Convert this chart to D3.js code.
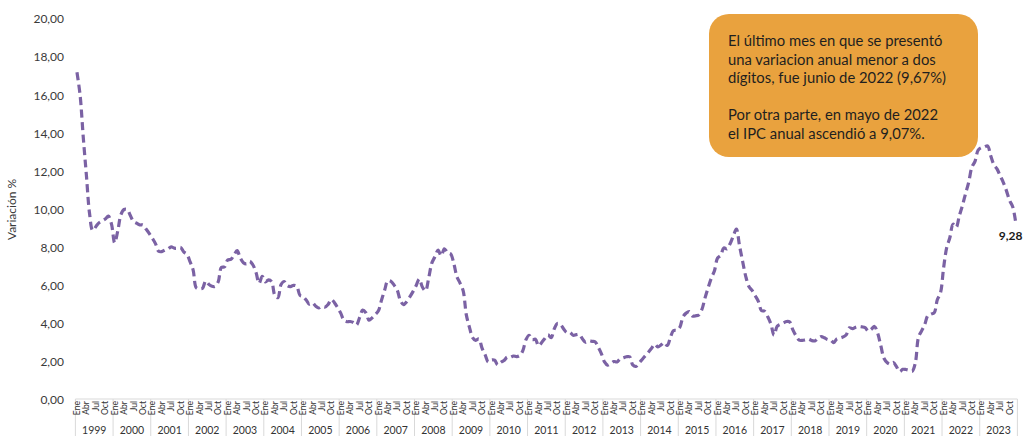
<!DOCTYPE html>
<html>
<head>
<meta charset="utf-8">
<script src="https://cdn.jsdelivr.net/npm/d3@7"></script>
<style>
html,body{margin:0;padding:0;background:#fff;}
svg{display:block;font-family:Lato,"Open Sans",sans-serif;}
</style>
</head>
<body>
<svg id="chart" width="1024" height="436"></svg>
<script>
// ---- data ----
const years = [1999,2000,2001,2002,2003,2004,2005,2006,2007,2008,2009,2010,2011,2012,2013,2014,2015,2016,2017,2018,2019,2020,2021,2022,2023];
const monthNames = ["Ene","Feb","Mar","Abr","May","Jun","Jul","Ago","Sep","Oct","Nov","Dic"];
const tickMonths = ["Ene","Abr","Jul","Oct"];
const yTicks = [0,2,4,6,8,10,12,14,16,18,20];
// annual CPI variation (%), monthly, Jan 1999 - Dec 2023
const values = [
 17.2,16.0,13.8,11.8,9.8,8.9,9.1,9.3,9.4,9.5,9.65,9.23,        // 1999
 8.25,8.89,9.73,10.0,10.0,9.68,9.37,9.28,9.19,9.19,8.98,8.75,  // 2000
 8.49,8.21,7.81,7.79,7.87,7.93,8.04,7.97,7.97,8.01,7.77,7.65,  // 2001
 7.26,6.82,5.89,5.84,5.87,6.25,6.07,5.97,5.97,6.21,6.96,6.99,  // 2002
 7.35,7.38,7.60,7.84,7.46,7.21,7.15,7.28,7.10,6.71,6.13,6.49,  // 2003
 6.20,6.31,6.21,5.50,5.37,6.06,6.22,6.00,5.95,6.02,5.97,5.50,  // 2004
 5.43,5.25,5.03,5.10,4.93,4.83,4.91,4.88,5.02,5.28,5.11,4.85,  // 2005
 4.56,4.19,4.11,4.12,4.07,3.94,4.32,4.72,4.58,4.19,4.31,4.48,  // 2006
 4.68,5.25,5.78,6.26,6.23,6.03,5.77,5.22,5.01,5.16,5.41,5.69,  // 2007
 6.00,6.35,5.93,5.73,6.39,7.18,7.52,7.87,7.57,7.94,7.73,7.67,  // 2008
 7.18,6.47,6.14,5.73,4.47,3.81,3.28,3.13,3.21,2.72,2.37,2.00,  // 2009
 2.10,2.09,1.84,1.98,2.07,2.25,2.24,2.31,2.28,2.33,2.59,3.17,  // 2010
 3.40,3.17,3.19,2.84,3.02,3.23,3.42,3.27,3.73,4.02,3.96,3.73,  // 2011
 3.54,3.55,3.40,3.43,3.44,3.20,3.03,3.11,3.08,3.06,2.77,2.44,  // 2012
 2.00,1.83,1.91,2.02,2.00,2.16,2.22,2.27,2.27,1.84,1.76,1.94,  // 2013
 2.13,2.32,2.51,2.72,2.93,2.79,2.89,3.02,2.86,3.29,3.65,3.66,  // 2014
 3.82,4.36,4.56,4.64,4.41,4.42,4.46,4.74,5.35,5.89,6.39,6.77,  // 2015
 7.45,7.59,7.98,7.93,8.20,8.60,8.97,8.10,7.27,6.48,5.96,5.75,  // 2016
 5.47,5.18,4.69,4.66,4.37,3.99,3.40,3.87,3.97,4.05,4.12,4.09,  // 2017
 3.68,3.37,3.14,3.13,3.16,3.20,3.12,3.10,3.23,3.33,3.27,3.18,  // 2018
 3.15,3.01,3.21,3.25,3.31,3.43,3.79,3.75,3.82,3.86,3.84,3.80,  // 2019
 3.62,3.72,3.86,3.51,2.85,2.19,1.97,1.88,1.97,1.75,1.49,1.61,  // 2020
 1.60,1.56,1.51,1.95,3.30,3.63,3.97,4.44,4.51,4.58,5.26,5.62,  // 2021
 6.94,8.01,8.53,9.23,9.07,9.67,10.21,10.84,11.44,12.22,12.53,13.12, // 2022
 13.25,13.28,13.34,12.82,12.36,12.13,11.78,11.43,10.99,10.48,10.15,9.28 // 2023
];
const lastLabel = "9,28";
const yTitle = "Variación %";
const noteLines = [
 "El último mes en que se presentó",
 "una variacion anual menor a dos",
 "dígitos, fue junio de 2022 (9,67%)",
 "",
 "Por otra parte, en mayo de 2022",
 "el IPC anual ascendió a 9,07%."
];

// ---- build ----
(function () {
const months = [];
years.forEach(yr => monthNames.forEach(m => months.push(yr + "-" + m)));
const data = months.map((k, i) => ({key: k, year: +k.slice(0,4), month: k.slice(5), v: values[i]}));

const svg = d3.select("#chart");
const pLeft = 75.4, pRight = 1017.4, pTop = 19, pBottom = 400;

const x = d3.scaleBand().domain(months).range([pLeft, pRight]).paddingInner(0).paddingOuter(0);
const xc = k => x(k) + x.bandwidth() / 2;
const y = d3.scaleLinear().domain([0, 20]).range([pBottom, pTop]);

const fmt = d => d3.format(".2f")(d).replace(".", ",");

// y axis labels
const yAxis = d3.axisLeft(y).tickValues(yTicks).tickFormat(fmt).tickSize(0).tickPadding(0);
const gy = svg.append("g").attr("transform", "translate(64,0)").call(yAxis);
gy.select(".domain").remove();
gy.selectAll("text").attr("font-family", "Lato, sans-serif").attr("font-size", 12).attr("fill", "#3a3a3a");

// y title
svg.append("text")
  .attr("transform", "translate(16," + ((pTop + pBottom) / 2) + ") rotate(-90)")
  .attr("text-anchor", "middle")
  .attr("font-size", 12).attr("fill", "#3a3a3a")
  .text(yTitle);

// x axis: month labels (every quarter) + year groups
const gx = svg.append("g");
const axisTop = 399, axisBottom = 436;
gx.append("line").attr("x1", pLeft).attr("x2", pRight).attr("y1", axisTop).attr("y2", axisTop)
  .attr("stroke", "#d9d9d9").attr("stroke-width", 1);
const yearBand = d3.scaleBand().domain(years).range([pLeft, pRight]);
gx.selectAll("line.ysep").data(years.concat([null])).join("line")
  .attr("class", "ysep")
  .attr("x1", (d, i) => pLeft + i * yearBand.bandwidth())
  .attr("x2", (d, i) => pLeft + i * yearBand.bandwidth())
  .attr("y1", axisTop).attr("y2", axisBottom)
  .attr("stroke", "#d9d9d9").attr("stroke-width", 1);
gx.selectAll("text.mlab").data(data.filter(d => tickMonths.includes(d.month))).join("text")
  .attr("class", "mlab")
  .attr("transform", d => "translate(" + (xc(d.key) + 3.1) + "," + (axisTop + 2) + ") rotate(-90)")
  .attr("text-anchor", "end")
  .attr("font-size", 8.6).attr("fill", "#333")
  .text(d => d.month);
gx.selectAll("text.ylab").data(years).join("text")
  .attr("class", "ylab")
  .attr("x", d => yearBand(d) + yearBand.bandwidth() / 2)
  .attr("y", 433.5)
  .attr("text-anchor", "middle")
  .attr("font-size", 10.5).attr("fill", "#333")
  .text(d => d);

// line
const line = d3.line().x(d => xc(d.key)).y(d => y(d.v)).curve(d3.curveCatmullRom.alpha(0.5));
svg.append("path").datum(data)
  .attr("d", line)
  .attr("fill", "none")
  .attr("stroke", "#7b62a4")
  .attr("stroke-width", 3.2)
  .attr("stroke-dasharray", "8,4.5");

// last value label
const last = data[data.length - 1];
svg.append("text")
  .attr("x", xc(last.key) - 17).attr("y", y(last.v) + 17)
  .attr("font-size", 12).attr("font-weight", "bold").attr("fill", "#1a1a1a")
  .text(lastLabel);

// annotation box
const note = svg.append("g");
note.append("rect").attr("x", 709).attr("y", 14).attr("width", 269).attr("height", 143)
  .attr("rx", 20).attr("ry", 20).attr("fill", "#e9a23e");
note.selectAll("text").data(noteLines).join("text")
  .attr("x", 728).attr("y", (d, i) => 46 + i * 18.6)
  .attr("font-size", 14.8).attr("fill", "#1f1f1f")
  .text(d => d);
})();
</script>
</body>
</html>
